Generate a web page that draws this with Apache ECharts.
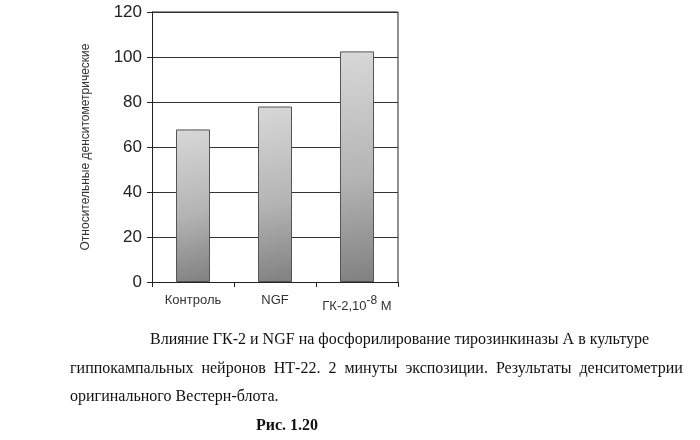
<!DOCTYPE html>
<html lang="ru">
<head>
<meta charset="UTF-8">
<title>Рис. 1.20</title>
<script src="https://cdn.jsdelivr.net/npm/echarts@6/dist/echarts.min.js"></script>
<style>body{margin:0;background:#fff}#chart{width:700px;height:440px}</style>
</head>
<body>
<div id="chart"></div>
<script>
// data
const categories = ['Контроль', 'NGF', 'ГК-2'];
const values = [67.8, 78, 102.5];
const yTicks = [0, 20, 40, 60, 80, 100, 120];

const chart = echarts.init(document.getElementById('chart'));
const serif = '"Liberation Serif", "DejaVu Serif", serif';
const sans = '"Liberation Sans", Arial, sans-serif';

chart.setOption({
  animation: false,
  grid: { left: 152, right: 302, top: 12, bottom: 158 },
  xAxis: {
    type: 'category',
    data: categories,
    axisLine: { lineStyle: { color: '#222' } },
    axisTick: { show: true, lineStyle: { color: '#222' } },
    axisLabel: {
      interval: 0, hideOverlap: false,
      fontFamily: sans, fontSize: 13, color: '#333', margin: 12,
      formatter: v => v === 'ГК-2' ? '{n|ГК-2,10}{s|-8}{n| М}' : v,
      rich: {
        n: { fontFamily: sans, fontSize: 13, color: '#333', padding: [6, 0, 0, 0] },
        s: { fontFamily: sans, fontSize: 12, color: '#333', padding: [0, 0, 6, 0] }
      }
    }
  },
  yAxis: {
    type: 'value', min: yTicks[0], max: yTicks[yTicks.length - 1], interval: 20,
    name: 'Относительные денситометрические',
    nameLocation: 'middle', nameGap: 60, nameRotate: 90,
    nameTextStyle: { fontFamily: sans, fontSize: 12, color: '#333' },
    axisLine: { show: true, lineStyle: { color: '#222' } },
    axisTick: { show: true, lineStyle: { color: '#222' } },
    axisLabel: { fontFamily: sans, fontSize: 17, color: '#222', margin: 10 },
    splitLine: { lineStyle: { color: '#333' } }
  },
  series: [{
    type: 'bar',
    data: values,
    barWidth: 34,
    itemStyle: {
      borderColor: '#555', borderWidth: 1,
      color: new echarts.graphic.LinearGradient(0, 0, 1, 1, [
        { offset: 0, color: '#d8d8d8' },
        { offset: 0.55, color: '#b4b4b4' },
        { offset: 1, color: '#808080' }
      ])
    }
  }],
  graphic: [
    { type: 'line', shape: { x1: 152, y1: 12, x2: 398, y2: 12 }, style: { stroke: '#222' } },
    { type: 'line', shape: { x1: 398, y1: 12, x2: 398, y2: 282 }, style: { stroke: '#222' } },
    { type: 'text', left: 150, top: 332, style: { text: 'Влияние ГК-2 и NGF на фосфорилирование тирозинкиназы А в культуре', font: '16px ' + serif, fill: '#111' } },
    { type: 'text', left: 70, top: 361, style: { text: 'гиппокампальных  нейронов  НТ-22.  2  минуты  экспозиции.  Результаты  денситометрии', font: '16px ' + serif, fill: '#111' } },
    { type: 'text', left: 70, top: 389, style: { text: 'оригинального Вестерн-блота.', font: '16px ' + serif, fill: '#111' } },
    { type: 'text', left: 256, top: 418, style: { text: 'Рис. 1.20', font: 'bold 16px ' + serif, fill: '#111' } }
  ]
});
</script>
</body>
</html>
